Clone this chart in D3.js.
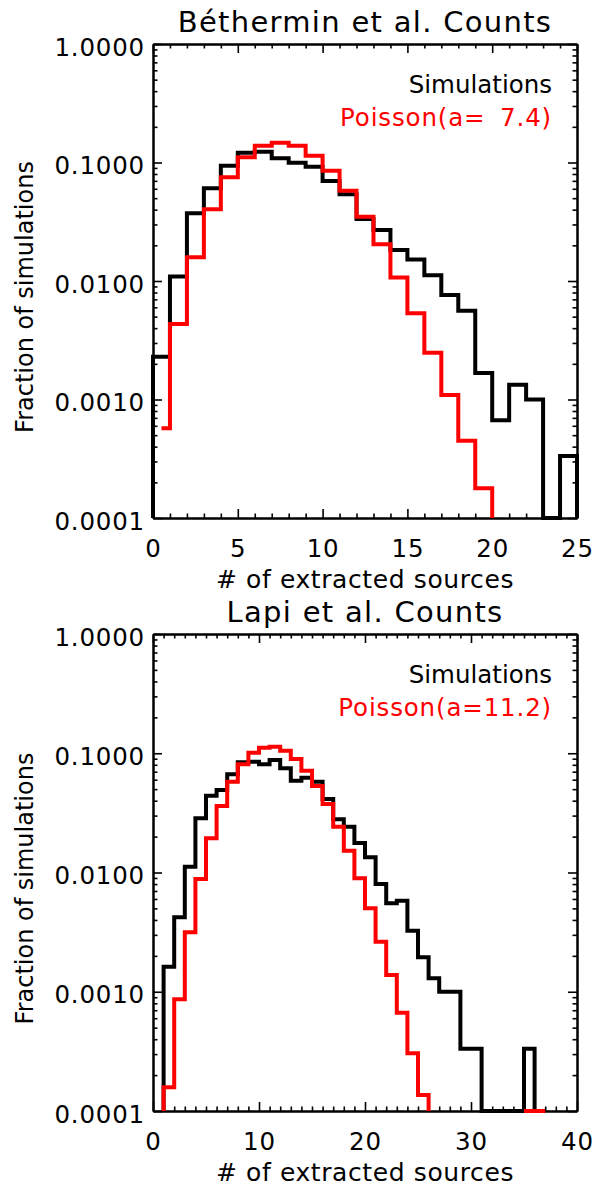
<!DOCTYPE html>
<html><head><meta charset="utf-8">
<script src="https://cdn.jsdelivr.net/npm/d3@7"></script>
<style>body{margin:0;background:#fff;} svg{display:block;}</style>
</head><body>
<script>
// ---------------- data ----------------
const yTickValues = [1, 0.1, 0.01, 0.001, 0.0001];
const yFloor = 0.0001;
const legendLabels = ["Simulations"];

// Top panel: Béthermin et al. counts (bins of width 1, starting at given bin)
const topTitle = "Béthermin et al. Counts";
const topXTicks = [0, 5, 10, 15, 20, 25];
const topPoissonLabel = "Poisson(a= 7.4)";
const topSimFirstBin = 0;
const topSimValues = [0.00230, 0.0109, 0.0373, 0.0606, 0.0940, 0.121, 0.123, 0.1085, 0.0996, 0.0922,
                      0.0698, 0.0539, 0.0334, 0.0269, 0.0183, 0.0152, 0.0112, 0.00762, 0.00561, 0.00167,
                      0.000667, 0.00133, 0.00100, 0, 0.000333];
const topPoisFirstBin = 0;
const topPoisFirstLeft = 0.5;
const topPoisValues = [0.000571, 0.00434, 0.0159, 0.0403, 0.0750, 0.1106, 0.1387, 0.147, 0.1387, 0.114,
                       0.0853, 0.0578, 0.0349, 0.0204, 0.0107, 0.00534, 0.00248, 0.00109, 0.000449, 0.000178];

// Bottom panel: Lapi et al. counts
const botTitle = "Lapi et al. Counts";
const botXTicks = [0, 10, 20, 30, 40];
const botPoissonLabel = "Poisson(a=11.2)";
const botSimFirstBin = 1;
const botSimValues = [0.00162, 0.00421, 0.0112, 0.0285, 0.0441, 0.0492, 0.0666, 0.0839, 0.0849, 0.0807,
                      0.0878, 0.0748, 0.0589, 0.0624, 0.0577, 0.0413, 0.0279, 0.0242, 0.0177, 0.0134,
                      0.00801, 0.00552, 0.00580, 0.00325, 0.00195, 0.00130, 0.00100, 0.00100, 0.000333, 0.000333,
                      0, 0, 0, 0, 0.000333];
const botPoisFirstBin = 1;
const botPoisValues = [0.000158, 0.000865, 0.00315, 0.00882, 0.0194, 0.0361, 0.0577, 0.0807, 0.101, 0.111,
                       0.1135, 0.105, 0.0895, 0.0714, 0.0531, 0.0375, 0.0242, 0.0152, 0.00894, 0.00501,
                       0.00263, 0.00138, 0.000667, 0.000305, 0.000136,
                       null, null, null, null, null, null, null, null, null, 0, 0];

const xLabel = "# of extracted sources";
const yLabel = "Fraction of simulations";

// ---------------- layout ----------------
const W = 609, H = 1191;
const FONT = "DejaVu Sans, sans-serif";
const panels = [
  {title: topTitle, xTicks: topXTicks, box: {x0: 153, x1: 577, y0: 44, y1: 518},
   legend: [legendLabels[0], topPoissonLabel],
   series: [
     {first: topSimFirstBin, values: topSimValues, color: "#000", fromFloor: true, toFloor: true},
     {first: topPoisFirstBin, firstLeft: topPoisFirstLeft, values: topPoisValues, color: "#ff0000", fromFloor: false, toFloor: true}
   ]},
  {title: botTitle, xTicks: botXTicks, box: {x0: 153, x1: 577, y0: 634, y1: 1111},
   legend: [legendLabels[0], botPoissonLabel],
   series: [
     {first: botSimFirstBin, values: botSimValues, color: "#000", fromFloor: true, toFloor: true},
     {first: botPoisFirstBin, values: botPoisValues, color: "#ff0000", fromFloor: true, toFloor: true}
   ]}
];

const svg = d3.select("body").append("svg").attr("width", W).attr("height", H)
  .style("font-family", FONT);

function stepSegments(s) {
  const segs = [];
  let seg = [];
  s.values.forEach((v, i) => {
    let xl = s.first + i, xr = xl + 1;
    if (i === 0 && s.firstLeft != null) xl = s.firstLeft;
    if (v == null) {
      if (seg.length) { seg.push([xl, 0]); segs.push(seg); seg = []; }
      return;
    }
    if (!seg.length && s.fromFloor) seg.push([xl, 0]);
    seg.push([xl, v], [xr, v]);
  });
  if (seg.length) {
    if (s.toFloor) seg.push([s.first + s.values.length, 0]);
    segs.push(seg);
  }
  return segs;
}

panels.forEach(p => {
  const b = p.box;
  const xMax = p.xTicks[p.xTicks.length - 1];
  const x = d3.scaleLinear().domain([0, xMax]).range([b.x0, b.x1]);
  const y = d3.scaleLog().domain([yFloor, 1]).range([b.y1, b.y0]);
  const g = svg.append("g");

  const xMinor = d3.range(0, xMax + 1, 1).filter(v => !p.xTicks.includes(v));
  const yMinor = [];
  yTickValues.slice(1).forEach(d => { for (let k = 2; k <= 9; k++) yMinor.push(k * d); });

  const style = sel => {
    sel.select(".domain").attr("stroke", "#000").attr("stroke-width", 2);
    sel.selectAll(".tick line").attr("stroke", "#000").attr("stroke-width", 1.6);
    sel.selectAll("text").attr("fill", "#000").style("font-family", FONT)
      .style("font-size", "24.5px").style("letter-spacing", "0.8px");
  };

  // bottom
  g.append("g").attr("transform", `translate(0,${b.y1})`)
    .call(d3.axisBottom(x).tickValues(p.xTicks).tickSize(-9).tickSizeOuter(0).tickPadding(22).tickFormat(d3.format("d")))
    .call(style).call(s => s.selectAll("text").attr("y", 39).attr("dy", null));
  g.append("g").attr("transform", `translate(0,${b.y1})`)
    .call(d3.axisBottom(x).tickValues(xMinor).tickSize(-4.5).tickSizeOuter(0).tickFormat(""))
    .call(style);
  // top
  g.append("g").attr("transform", `translate(0,${b.y0})`)
    .call(d3.axisTop(x).tickValues(p.xTicks).tickSize(-9).tickSizeOuter(0).tickFormat(""))
    .call(style);
  g.append("g").attr("transform", `translate(0,${b.y0})`)
    .call(d3.axisTop(x).tickValues(xMinor).tickSize(-4.5).tickSizeOuter(0).tickFormat(""))
    .call(style);
  // left
  g.append("g").attr("transform", `translate(${b.x0},0)`)
    .call(d3.axisLeft(y).tickValues(yTickValues).tickSize(-9).tickSizeOuter(0).tickPadding(8).tickFormat(d3.format(".4f")))
    .call(style).call(s => s.selectAll("text").attr("dy", "0.45em"));
  g.append("g").attr("transform", `translate(${b.x0},0)`)
    .call(d3.axisLeft(y).tickValues(yMinor).tickSize(-4.5).tickSizeOuter(0).tickFormat(""))
    .call(style);
  // right
  g.append("g").attr("transform", `translate(${b.x1},0)`)
    .call(d3.axisRight(y).tickValues(yTickValues).tickSize(-9).tickSizeOuter(0).tickFormat(""))
    .call(style);
  g.append("g").attr("transform", `translate(${b.x1},0)`)
    .call(d3.axisRight(y).tickValues(yMinor).tickSize(-4.5).tickSizeOuter(0).tickFormat(""))
    .call(style);

  // data
  const line = d3.line().x(d => x(d[0])).y(d => y(Math.max(d[1], yFloor)));
  p.series.forEach(s => {
    stepSegments(s).forEach(seg => {
      g.append("path").attr("d", line(seg)).attr("fill", "none")
        .attr("stroke", s.color).attr("stroke-width", 4).attr("stroke-linejoin", "miter");
    });
  });

  // titles
  const cx = (b.x0 + b.x1) / 2;
  g.append("text").attr("x", cx).attr("y", b.y0 - 12).attr("text-anchor", "middle")
    .style("font-size", "29px").style("letter-spacing", "1.3px").text(p.title);
  g.append("text").attr("x", cx).attr("y", b.y1 + 70).attr("text-anchor", "middle")
    .style("font-size", "25px").style("letter-spacing", "0.6px").text(xLabel);
  g.append("text").attr("transform", `translate(33,${(b.y0 + b.y1) / 2 + 16}) rotate(-90)`)
    .attr("text-anchor", "middle").style("font-size", "24px").text(yLabel);

  // legend
  g.append("text").attr("x", 552).attr("y", b.y0 + 49).attr("text-anchor", "end")
    .style("font-size", "24.5px").attr("fill", "#000").text(p.legend[0]);
  g.append("text").attr("x", 552).attr("y", b.y0 + 82).attr("text-anchor", "end")
    .style("font-size", "24.5px").style("letter-spacing", "0.85px").style("word-spacing", "6px")
    .style("white-space", "pre").attr("fill", "#ff0000").text(p.legend[1]);
});
</script>
</body></html>
